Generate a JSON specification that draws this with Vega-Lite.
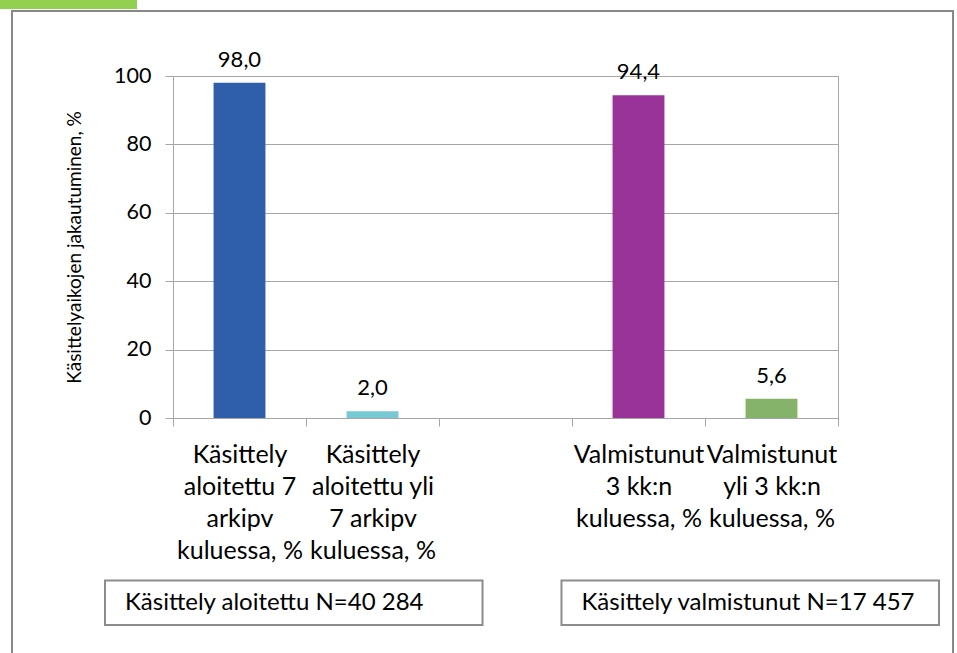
{
  "$schema": "https://vega.github.io/schema/vega-lite/v6.json",
  "width": 665,
  "height": 342,
  "autosize": {"type": "none"},
  "padding": {"left": 173, "top": 76, "right": 119, "bottom": 235},
  "background": "white",
  "config": {
    "font": "Lato",
    "view": {"stroke": "#A6A6A6", "strokeWidth": 1},
    "locale": {"number": {"decimal": ",", "thousands": " ", "grouping": [3], "currency": ["", " €"]}}
  },
  "datasets": {
    "osuudet": [
      {"kategoria": "Käsittely|aloitettu 7|arkipv|kuluessa, %", "osuus": 98.0},
      {"kategoria": "Käsittely|aloitettu yli|7 arkipv|kuluessa, %", "osuus": 2.0},
      {"kategoria": "Valmistunut|3 kk:n|kuluessa, %", "osuus": 94.4},
      {"kategoria": "Valmistunut|yli 3 kk:n|kuluessa, %", "osuus": 5.6}
    ],
    "ryhmat": [
      {"ryhma": "Käsittely aloitettu", "teksti": "Käsittely aloitettu N=40 284"},
      {"ryhma": "Käsittely valmistunut", "teksti": "Käsittely valmistunut N=17 457"}
    ],
    "kehys": [{"osa": "kaavion kehys"}],
    "koriste": [{"osa": "vihreä palkki"}]
  },
  "layer": [
    {
      "data": {"name": "osuudet"},
      "encoding": {
        "x": {
          "field": "kategoria",
          "type": "nominal",
          "sort": null,
          "scale": {
            "domain": [
              "Käsittely|aloitettu 7|arkipv|kuluessa, %",
              "Käsittely|aloitettu yli|7 arkipv|kuluessa, %",
              "",
              "Valmistunut|3 kk:n|kuluessa, %",
              "Valmistunut|yli 3 kk:n|kuluessa, %"
            ],
            "paddingInner": 0,
            "paddingOuter": 0
          },
          "axis": {
            "title": null,
            "labelExpr": "split(datum.label, '|')",
            "labelFontSize": 25,
            "labelColor": "#000000",
            "labelLineHeight": 32,
            "labelPadding": 16,
            "labelBaseline": "top",
            "labelAngle": 0,
            "labelOverlap": false,
            "labelLimit": 300,
            "tickBand": "extent",
            "tickSize": 8,
            "tickColor": "#A6A6A6",
            "domainColor": "#A6A6A6"
          }
        },
        "y": {
          "field": "osuus",
          "type": "quantitative",
          "scale": {"domain": [0, 100], "nice": false},
          "axis": {
            "title": "Käsittelyaikojen jakautuminen, %",
            "titleFontSize": 19,
            "titleFontWeight": "normal",
            "titleColor": "#000000",
            "titlePadding": 29,
            "values": [0, 20, 40, 60, 80, 100],
            "labelFontSize": 21.5,
            "labelColor": "#000000",
            "labelPadding": 14,
            "tickSize": 8,
            "tickColor": "#A6A6A6",
            "domainColor": "#A6A6A6",
            "gridColor": "#A6A6A6",
            "grid": true
          }
        }
      },
      "layer": [
        {
          "mark": {"type": "bar", "width": {"band": 0.39}},
          "encoding": {
            "color": {
              "field": "kategoria",
              "type": "nominal",
              "scale": {
                "domain": [
                  "Käsittely|aloitettu 7|arkipv|kuluessa, %",
                  "Käsittely|aloitettu yli|7 arkipv|kuluessa, %",
                  "Valmistunut|3 kk:n|kuluessa, %",
                  "Valmistunut|yli 3 kk:n|kuluessa, %"
                ],
                "range": ["#2F5FAA", "#77C9D4", "#993399", "#86B36A"]
              },
              "legend": null
            }
          }
        },
        {
          "mark": {"type": "text", "baseline": "bottom", "dy": -11, "fontSize": 22, "color": "#000000"},
          "encoding": {
            "text": {"field": "osuus", "type": "quantitative", "format": ".1f"}
          }
        }
      ]
    },
    {
      "data": {"name": "ryhmat"},
      "encoding": {
        "x": {
          "field": "ryhma",
          "type": "nominal",
          "scale": {"type": "band", "range": [-68, 766], "paddingInner": 0.173, "paddingOuter": 0},
          "axis": null
        }
      },
      "layer": [
        {
          "mark": {"type": "rect", "fill": "white", "stroke": "#8C8C8C", "strokeWidth": 2},
          "encoding": {
            "y": {"datum": -47.5, "scale": {"domain": [0, 100], "nice": false}},
            "y2": {"datum": -60.5}
          }
        },
        {
          "mark": {"type": "text", "align": "left", "baseline": "middle", "dx": 20, "fontSize": 24, "color": "#000000"},
          "encoding": {
            "x": {"field": "ryhma", "type": "nominal", "bandPosition": 0, "axis": null},
            "y": {"datum": -54, "scale": {"domain": [0, 100], "nice": false}},
            "text": {"field": "teksti"}
          }
        }
      ]
    },
    {
      "data": {"name": "kehys"},
      "mark": {"type": "rect", "fill": null, "filled": false, "stroke": "#888888", "strokeWidth": 2},
      "encoding": {
        "x": {
          "field": "osa",
          "type": "nominal",
          "scale": {"type": "band", "range": [-161, 780], "paddingInner": 0, "paddingOuter": 0},
          "axis": null
        },
        "y": {"datum": 119, "scale": {"domain": [0, 100], "nice": false}},
        "y2": {"datum": -75}
      }
    },
    {
      "data": {"name": "koriste"},
      "mark": {"type": "rect", "fill": "#92D050"},
      "encoding": {
        "x": {
          "field": "osa",
          "type": "nominal",
          "scale": {"type": "band", "range": [-173, -36], "paddingInner": 0, "paddingOuter": 0},
          "axis": null
        },
        "y": {"datum": 125, "scale": {"domain": [0, 100], "nice": false}},
        "y2": {"datum": 119.6}
      }
    }
  ],
  "resolve": {"scale": {"x": "independent"}, "axis": {"x": "independent"}}
}
